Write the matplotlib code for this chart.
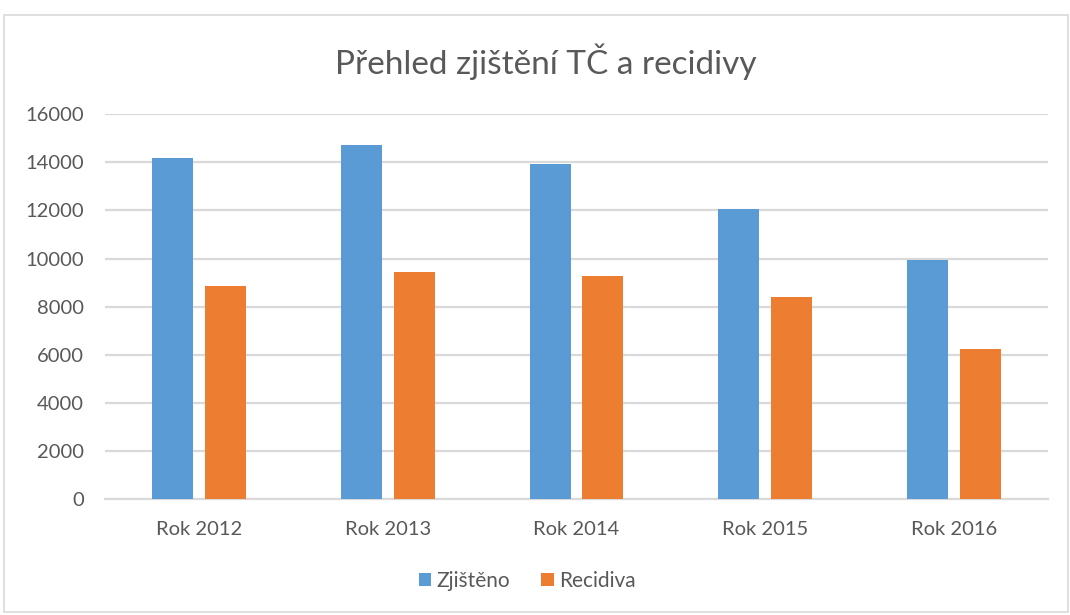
import matplotlib
matplotlib.use("Agg")
import matplotlib.pyplot as plt
from matplotlib.patches import Rectangle
import numpy as np

categories = ["Rok 2012", "Rok 2013", "Rok 2014", "Rok 2015", "Rok 2016"]
zjisteno = [14180, 14720, 13930, 12060, 9940]
recidiva = [8860, 9440, 9270, 8400, 6240]
yticks = [0, 2000, 4000, 6000, 8000, 10000, 12000, 14000, 16000]

plt.rcParams['font.family'] = ['Lato', 'DejaVu Sans']

W, H = 1070, 615
fig = plt.figure(figsize=(W / 100, H / 100), dpi=100)
ax = fig.add_axes([105 / W, 1 - 499 / H, (1048 - 105) / W, (499 - 114.3) / H])

x = np.arange(len(categories))
w = 0.218
off = 0.14
ax.bar(x - off, zjisteno, w, color="#5B9BD5", label="Zjištěno", zorder=3)
ax.bar(x + off, recidiva, w, color="#ED7D31", label="Recidiva", zorder=3)

ax.set_xlim(-0.5, len(categories) - 0.5)
ax.set_ylim(0, 16000)
ax.set_yticks(yticks)
ax.set_yticklabels([str(t) for t in yticks])
ax.set_xticks(x)
ax.set_xticklabels(categories)
ax.yaxis.grid(True, color="#D9D9D9", linewidth=1.6, zorder=0)
ax.set_axisbelow(True)
for s in ["top", "right", "left"]:
    ax.spines[s].set_visible(False)
ax.spines["bottom"].set_color("#D9D9D9")
ax.spines["bottom"].set_linewidth(1.6)
ax.tick_params(axis="both", length=0, colors="#595959", labelsize=14.5)
ax.tick_params(axis="y", pad=15)
ax.tick_params(axis="x", pad=16)

fig.text(546 / W, 1 - 62 / H, "Přehled zjištění TČ a recidivy", ha="center", va="center",
         fontsize=24, color="#595959")

leg = fig.legend(loc="center", bbox_to_anchor=(527 / W, 1 - 581 / H), ncol=2, frameon=False,
                 fontsize=15, handlelength=0.6, handleheight=0.6, handletextpad=0.25,
                 columnspacing=1.5)
for t in leg.get_texts():
    t.set_color("#595959")

fig.patches.append(Rectangle((4 / W, 1 - 612 / H), (1068 - 4) / W, (612 - 14.5) / H,
                             transform=fig.transFigure, fill=False, edgecolor="#D9D9D9",
                             linewidth=1.2))

fig.savefig("out.png", dpi=100, facecolor="white")
